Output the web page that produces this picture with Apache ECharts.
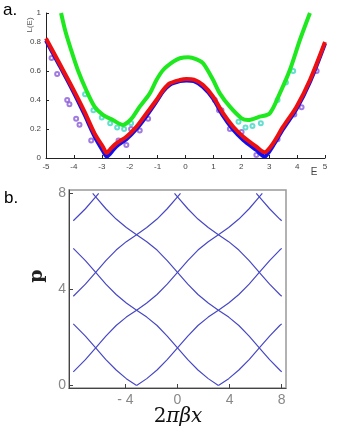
<!DOCTYPE html>
<html>
<head>
<meta charset="utf-8">
<script src="https://cdn.jsdelivr.net/npm/echarts@6/dist/echarts.min.js"></script>
<style>
  html, body { margin: 0; padding: 0; background: #fff; }
  #chart { width: 360px; height: 430px; }
</style>
</head>
<body>
<div id="chart"></div>
<script>
// ---- panel a: L(E) curves ----
var greenE = [-4.46, -4.3, -4.1, -3.86, -3.56, -3.26, -2.96, -2.6, -2.24, -2.05, -1.88, -1.64, -1.28, -1.04, -0.8, -0.44, -0.2, 0.1, 0.4, 0.63, 0.99, 1.23, 1.59, 2.01, 2.24, 2.66, 3.02, 3.38, 3.74, 4.1, 4.46];
var greenL = [1.0, 0.87, 0.745, 0.607, 0.469, 0.354, 0.297, 0.262, 0.228, 0.25, 0.285, 0.354, 0.446, 0.538, 0.607, 0.664, 0.688, 0.695, 0.68, 0.653, 0.538, 0.446, 0.354, 0.274, 0.262, 0.285, 0.308, 0.446, 0.607, 0.814, 1.0];

var redE = [-5, -4.52, -4.04, -3.62, -3.26, -2.96, -2.82, -2.7, -2.48, -2.12, -1.76, -1.4, -1.04, -0.8, -0.56, -0.2, 0.04, 0.3, 0.63, 0.99, 1.35, 1.71, 2.07, 2.54, 2.84, 2.95, 3.14, 3.5, 3.98, 4.46, 5];
var redL = [0.825, 0.653, 0.48, 0.32, 0.17, 0.078, 0.035, 0.06, 0.101, 0.147, 0.216, 0.308, 0.4, 0.469, 0.515, 0.538, 0.545, 0.54, 0.503, 0.423, 0.308, 0.216, 0.147, 0.078, 0.04, 0.055, 0.101, 0.216, 0.354, 0.538, 0.8];
var blueL = [0.81, 0.64, 0.465, 0.3, 0.15, 0.05, 0.01, 0.03, 0.08, 0.13, 0.2, 0.29, 0.39, 0.46, 0.505, 0.53, 0.535, 0.53, 0.49, 0.41, 0.29, 0.195, 0.125, 0.055, 0.01, 0.03, 0.085, 0.2, 0.34, 0.525, 0.79];

// scattered open circles
var purpleE = [-4.8, -4.6, -4.24, -4.16, -3.92, -3.8, -3.38, -2.4, -2.12, -1.95, -1.64, -1.34, 1.05, 1.2, 1.29, 1.59, 2.01, 2.54, 3.3, 3.9, 4.16, 4.7];
var purpleL = [0.69, 0.58, 0.40, 0.37, 0.27, 0.23, 0.12, 0.12, 0.09, 0.2, 0.19, 0.27, 0.4, 0.33, 0.33, 0.2, 0.18, 0.02, 0.13, 0.3, 0.35, 0.6];
var cyanE = [-3.6, -3.3, -3.0, -2.7, -2.45, -2.2, -1.95, 1.9, 2.15, 2.4, 2.7, 3.3, 3.6, 3.86];
var cyanL = [0.44, 0.33, 0.28, 0.24, 0.21, 0.2, 0.24, 0.25, 0.21, 0.22, 0.24, 0.4, 0.52, 0.6];

// ---- panel b: phase-space lines [2πβx, p] ----
var rise0 = [[-3.14, 0], [-2.36, 0.29], [-1.57, 0.65], [-0.79, 1.08], [0, 1.57], [0.79, 2.06], [1.57, 2.5], [2.36, 2.85], [3.14, 3.14], [3.93, 3.44], [4.71, 3.79], [5.5, 4.22], [6.28, 4.71], [7.07, 5.2], [7.85, 5.64], [8, 5.71]];
var riseA = [[3.14, 0], [3.93, 0.29], [4.71, 0.65], [5.5, 1.08], [6.28, 1.57], [7.07, 2.06], [7.85, 2.5], [8, 2.57]];
var rise1 = [[-8, 0.57], [-7.85, 0.65], [-7.07, 1.08], [-6.28, 1.57], [-5.5, 2.06], [-4.71, 2.5], [-3.93, 2.85], [-3.14, 3.14], [-2.36, 3.44], [-1.57, 3.79], [-0.79, 4.22], [0, 4.71], [0.79, 5.2], [1.57, 5.64], [2.36, 5.99], [3.14, 6.28], [3.93, 6.58], [4.71, 6.93], [5.5, 7.36], [6.28, 7.85], [6.51, 8]];
var rise2 = [[-8, 3.72], [-7.85, 3.79], [-7.07, 4.22], [-6.28, 4.71], [-5.5, 5.2], [-4.71, 5.64], [-3.93, 5.99], [-3.14, 6.28], [-2.36, 6.58], [-1.57, 6.93], [-0.79, 7.36], [0, 7.85], [0.23, 8]];
var rise3 = [[-8, 6.86], [-7.85, 6.93], [-7.07, 7.36], [-6.28, 7.85], [-6.05, 8]];
var fall0 = [[-8, 5.71], [-7.85, 5.64], [-7.07, 5.2], [-6.28, 4.71], [-5.5, 4.22], [-4.71, 3.79], [-3.93, 3.44], [-3.14, 3.14], [-2.36, 2.85], [-1.57, 2.5], [-0.79, 2.06], [0, 1.57], [0.79, 1.08], [1.57, 0.65], [2.36, 0.29], [3.14, 0]];
var fallA = [[-8, 2.57], [-7.85, 2.5], [-7.07, 2.06], [-6.28, 1.57], [-5.5, 1.08], [-4.71, 0.65], [-3.93, 0.29], [-3.14, 0]];
var fall1 = [[-6.51, 8], [-6.28, 7.85], [-5.5, 7.36], [-4.71, 6.93], [-3.93, 6.58], [-3.14, 6.28], [-2.36, 5.99], [-1.57, 5.64], [-0.79, 5.2], [0, 4.71], [0.79, 4.22], [1.57, 3.79], [2.36, 3.44], [3.14, 3.14], [3.93, 2.85], [4.71, 2.5], [5.5, 2.06], [6.28, 1.57], [7.07, 1.08], [7.85, 0.65], [8, 0.57]];
var fall2 = [[-0.23, 8], [0, 7.85], [0.79, 7.36], [1.57, 6.93], [2.36, 6.58], [3.14, 6.28], [3.93, 5.99], [4.71, 5.64], [5.5, 5.2], [6.28, 4.71], [7.07, 4.22], [7.85, 3.79], [8, 3.72]];
var fall3 = [[6.05, 8], [6.28, 7.85], [7.07, 7.36], [7.85, 6.93], [8, 6.86]];

var xTicksB = [-4, 0, 4, 8];
var yTicksB = [0, 4, 8];

function zip(xs, ys) {
  return xs.map(function (x, i) { return [x, ys[i]]; });
}

var chart = echarts.init(document.getElementById('chart'));

var axisA = {
  axisLine: { show: true, onZero: false, lineStyle: { color: '#222', width: 1 } },
  axisTick: { show: true, inside: true, length: 3, lineStyle: { color: '#222' } },
  axisLabel: { fontSize: 8, color: '#444', fontFamily: 'Liberation Sans', margin: 5 },
  splitLine: { show: false }
};

var phaseLines = [rise0, riseA, rise1, rise2, rise3, fall0, fallA, fall1, fall2, fall3].map(function (d) {
  return {
    type: 'line',
    xAxisIndex: 1,
    yAxisIndex: 1,
    data: d,
    showSymbol: false,
    silent: true,
    lineStyle: { color: '#4848c4', width: 1.2 }
  };
});

var option = {
  animation: false,
  grid: [
    { left: 46, top: 13, width: 279, height: 145 },
    { left: 69, top: 190, width: 217, height: 198, show: true, borderColor: '#999', borderWidth: 1.5 }
  ],
  xAxis: [
    Object.assign({ type: 'value', gridIndex: 0, min: -5, max: 5, interval: 1 }, axisA),
    {
      type: 'value', gridIndex: 1, min: -8.33, max: 8.33,
      axisLine: { onZero: false, lineStyle: { color: '#444' } },
      axisTick: { inside: true, length: 4, customValues: xTicksB, lineStyle: { color: '#444' } },
      axisLabel: {
        customValues: xTicksB, fontSize: 14, color: '#888', fontFamily: 'Liberation Sans', margin: 5,
        formatter: function (v) { return v < 0 ? '- ' + Math.abs(v) : '' + v; }
      },
      splitLine: { show: false }
    }
  ],
  yAxis: [
    Object.assign({ type: 'value', gridIndex: 0, min: 0, max: 1, interval: 0.2 }, axisA),
    {
      type: 'value', gridIndex: 1, min: -0.1, max: 8.14,
      axisLine: { show: true, onZero: false, lineStyle: { color: '#444' } },
      axisTick: { show: true, inside: true, length: 4, customValues: yTicksB, lineStyle: { color: '#444' } },
      axisLabel: { customValues: yTicksB, fontSize: 14, color: '#888', fontFamily: 'Liberation Sans', margin: 3 },
      splitLine: { show: false }
    }
  ],
  series: [
    {
      type: 'line', data: zip(redE, blueL), showSymbol: false, smooth: 0.3,
      lineStyle: { color: '#1010ee', width: 4 }
    },
    {
      type: 'scatter', data: zip(purpleE, purpleL), symbol: 'emptyCircle', symbolSize: 4,
      itemStyle: { color: '#8a5ad8', borderWidth: 1 }
    },
    {
      type: 'scatter', data: zip(cyanE, cyanL), symbol: 'emptyCircle', symbolSize: 4,
      itemStyle: { color: '#3fd6c4', borderWidth: 1 }
    },
    {
      type: 'line', data: zip(greenE, greenL), showSymbol: false, smooth: 0.3,
      lineStyle: { color: '#1ee81e', width: 4 }
    },
    {
      type: 'line', data: zip(redE, redL), showSymbol: false, smooth: 0.3,
      lineStyle: { color: '#ee1010', width: 4 }
    }
  ].concat(phaseLines),
  graphic: [
    { type: 'text', left: 3, top: 2, style: { text: 'a.', font: '17px Liberation Sans', fill: '#000' } },
    {
      type: 'text', x: 30, y: 25, rotation: Math.PI / 2,
      style: { text: 'L(E)', font: '8px Liberation Sans', fill: '#555', align: 'center', verticalAlign: 'middle' }
    },
    { type: 'text', x: 314, y: 172, style: { text: 'E', font: '10px Liberation Sans', fill: '#444', align: 'center', verticalAlign: 'middle' } },
    { type: 'text', left: 4, top: 190, style: { text: 'b.', font: '17px Liberation Sans', fill: '#000' } },
    {
      type: 'text', x: 37, y: 276, rotation: Math.PI / 2,
      style: { text: 'p', font: 'bold 19px DejaVu Serif', fill: '#222', align: 'center', verticalAlign: 'middle' }
    },
    {
      type: 'text', x: 178, y: 417,
      style: {
        text: '{a|2}{b|πβx}', align: 'center', verticalAlign: 'middle',
        rich: {
          a: { font: '20px DejaVu Serif', fill: '#111' },
          b: { font: 'italic 20px DejaVu Serif', fill: '#111' }
        }
      }
    }
  ]
};

chart.setOption(option);
</script>
</body>
</html>
